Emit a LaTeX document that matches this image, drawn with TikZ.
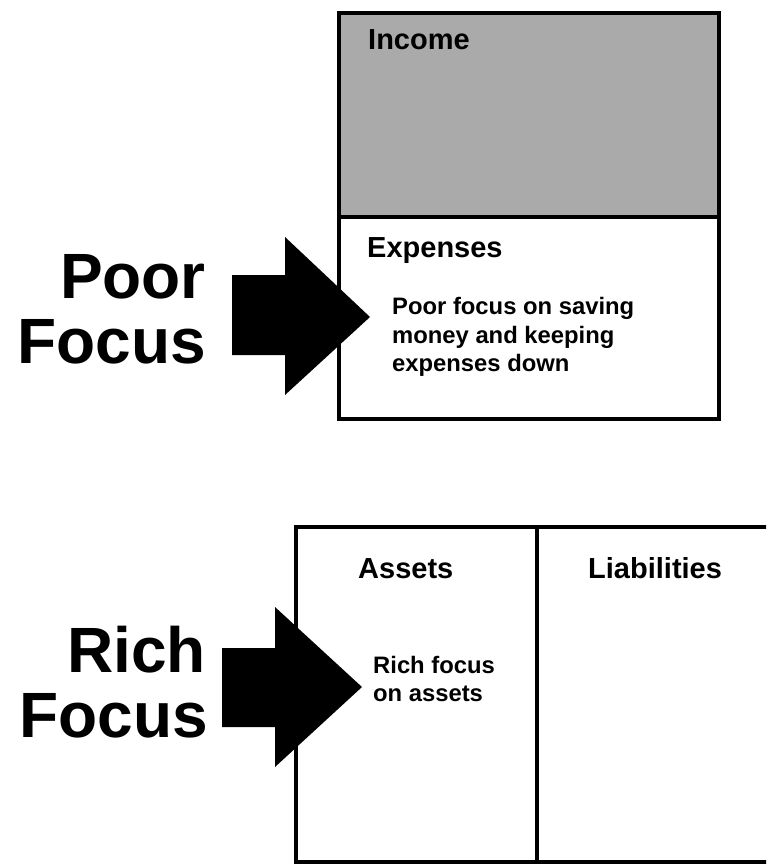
\documentclass[tikz,border=0pt]{standalone}
\usepackage{fontspec}
\setmainfont{Liberation Sans}
\definecolor{incomegray}{RGB}{170,170,170}
\tikzset{
  boxline/.style={draw=black, line width=4pt},
  bigarrow/.style={fill=black, draw=none},
  biglabel/.style={anchor=base east, inner sep=0pt, font=\fontsize{64}{64}\selectfont\bfseries},
  headlabel/.style={anchor=base west, inner sep=0pt, font=\fontsize{29}{29}\selectfont\bfseries},
  bodylabel/.style={anchor=base west, inner sep=0pt, font=\fontsize{23.8}{23.8}\selectfont\bfseries},
}
\begin{document}
\begin{tikzpicture}[x=1pt,y=-1pt]
\useasboundingbox (0,0) rectangle (766,867);
\begin{scope}
\clip (0,0) rectangle (766,867);
% top box
\fill[incomegray] (339,13) rectangle (719,217);
\draw[boxline] (339,13) rectangle (719,419);
\draw[boxline] (339,217) -- (719,217);
% bottom box
\draw[boxline] (296,527) rectangle (790,862);
\draw[boxline] (537,527) -- (537,862);
\end{scope}
% arrows
\fill[bigarrow] (232,275) -- (285,275) -- (285,237) -- (370,317) -- (285,395) -- (285,355) -- (232,355) -- cycle;
\fill[bigarrow] (222,648) -- (275,648) -- (275,607) -- (362,687) -- (275,767) -- (275,727) -- (222,727) -- cycle;
% labels
\node[biglabel] (poor1) at (206,298) {Poor};
\node[biglabel] (poor2) at (206,363) {Focus};
\node[biglabel] (rich1) at (206,672) {Rich};
\node[biglabel] (rich2) at (208,737) {Focus};
\node[headlabel] (income) at (368,50) {Income};
\node[headlabel] (expenses) at (367,257) {Expenses};
\node[bodylabel] (pf1) at (392,314) {Poor focus on saving};
\node[bodylabel] (pf2) at (392,343) {money and keeping};
\node[bodylabel] (pf3) at (392,371) {expenses down};
\node[headlabel] (assets) at (358,578) {Assets};
\node[headlabel] (liab) at (588,578) {Liabilities};
\node[bodylabel] (rf1) at (373,673) {Rich focus};
\node[bodylabel] (rf2) at (373,701) {on assets};
\end{tikzpicture}
\end{document}
